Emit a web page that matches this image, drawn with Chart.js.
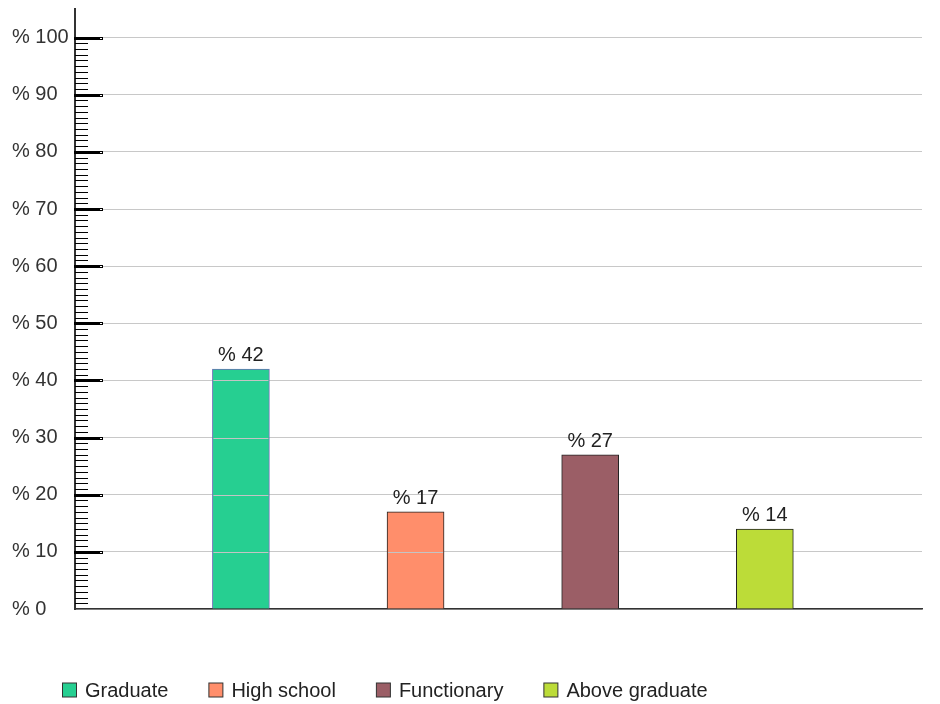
<!DOCTYPE html>
<html>
<head>
<meta charset="utf-8">
<title>Education level</title>
<script src="https://cdn.jsdelivr.net/npm/chart.js@4.4.1/dist/chart.umd.min.js"></script>
<style>
  html, body { margin: 0; padding: 0; background: #fff; }
  canvas { display: block; }
</style>
</head>
<body>
<canvas id="eduChart" width="940" height="704"></canvas>
<script>
const levels = ["Graduate", "High school", "Functionary", "Above graduate"];
const shares = [42, 17, 27, 14];
const yTicks = [0, 10, 20, 30, 40, 50, 60, 70, 80, 90, 100];

const fills = ["#26cf91", "#ff8e6b", "#9b5e66", "#bcdc38"];
const outlines = ["#6b6fb5", "#222", "#222", "#222"];
const FONT = "20px 'Liberation Sans', Arial, sans-serif";

Chart.defaults.font.family = "'Liberation Sans', Arial, sans-serif";
Chart.defaults.font.size = 20;

// ruler-style ticks on the value axis: long ones every 10, short ones every 1
const rulerTicks = {
  id: "rulerTicks",
  afterDraw(chart) {
    const y = chart.scales.y, ctx = chart.ctx, left = chart.chartArea.left;
    ctx.save();
    for (let v = 1; v <= 100; v++) {
      const py = Math.round(y.getPixelForValue(v));
      if (v % 10 === 0) {
        ctx.fillStyle = "#000";
        ctx.fillRect(left - 1, py - 1, 25, 3);
        ctx.fillStyle = "#fff";
        ctx.fillRect(left + 24, py - 1, 4, 3);
        ctx.strokeStyle = "#000";
        ctx.lineWidth = 1;
        ctx.strokeRect(left + 24.5, py - 0.5, 3, 2);
      } else {
        ctx.fillStyle = "#000";
        ctx.fillRect(left, py, 13, 1);
      }
    }
    ctx.restore();
  }
};

// the first two bars let the grid show through
const gridOverBars = {
  id: "gridOverBars",
  afterDatasetsDraw(chart, args, opts) {
    const meta = chart.getDatasetMeta(0), y = chart.scales.y, ctx = chart.ctx;
    ctx.save();
    ctx.strokeStyle = "#c4c4c4";
    ctx.lineWidth = 1;
    opts.bars.forEach(i => {
      const bar = meta.data[i];
      const half = bar.width / 2;
      y.ticks.forEach(t => {
        const py = Math.round(y.getPixelForValue(t.value)) + 0.5;
        if (py > bar.y + 1 && py < bar.base - 1) {
          ctx.beginPath();
          ctx.moveTo(bar.x - half + 1, py);
          ctx.lineTo(bar.x + half - 1, py);
          ctx.stroke();
        }
      });
    });
    ctx.restore();
  }
};

const valueLabels = {
  id: "valueLabels",
  afterDatasetsDraw(chart) {
    const meta = chart.getDatasetMeta(0), ctx = chart.ctx;
    ctx.save();
    ctx.font = FONT;
    ctx.fillStyle = "#222";
    ctx.textAlign = "center";
    ctx.textBaseline = "alphabetic";
    meta.data.forEach((bar, i) => {
      ctx.fillText("% " + shares[i], bar.x, bar.y - 8);
    });
    ctx.restore();
  }
};

const keyRow = {
  id: "keyRow",
  afterDraw(chart, args, opts) {
    const ctx = chart.ctx;
    ctx.save();
    ctx.font = FONT;
    ctx.textBaseline = "middle";
    let x = opts.x;
    const y = opts.y;
    levels.forEach((name, i) => {
      ctx.fillStyle = fills[i];
      ctx.fillRect(x + 0.5, y - 7, 14, 14);
      ctx.strokeStyle = "#333";
      ctx.lineWidth = 1;
      ctx.strokeRect(x + 0.5, y - 7, 14, 14);
      ctx.fillStyle = "#222";
      ctx.fillText(name, x + 23, y + 1);
      x += 23 + ctx.measureText(name).width + opts.gap;
    });
    ctx.restore();
  }
};

new Chart(document.getElementById("eduChart"), {
  type: "bar",
  data: {
    datasets: [{
      data: shares.map((v, i) => ({ x: i, y: v })),
      backgroundColor: fills,
      borderColor: outlines,
      borderWidth: 1,
      barThickness: 57
    }]
  },
  options: {
    responsive: false,
    animation: false,
    devicePixelRatio: 1,
    layout: { padding: { left: 12, right: 18, top: 9, bottom: 95 } },
    scales: {
      x: {
        type: "linear",
        offset: false,
        min: -0.95,
        max: 3.9,
        ticks: { display: false },
        grid: { display: false },
        border: { display: true, color: "#333", width: 1.5 },
        afterFit: s => { s.height = 0; s.paddingLeft = 0; s.paddingRight = 0; }
      },
      y: {
        min: 0,
        max: 105,
        afterBuildTicks: s => { s.ticks = yTicks.map(v => ({ value: v })); },
        afterFit: s => { s.width = 63; s.paddingTop = 0; s.paddingBottom = 0; },
        ticks: {
          crossAlign: "far",
          color: "#333",
          font: { size: 20 },
          callback: v => "% " + v
        },
        grid: { color: "#c8c8c8", lineWidth: 1, drawTicks: false },
        border: { display: true, color: "#333", width: 2 }
      }
    },
    plugins: {
      legend: { display: false },
      tooltip: { enabled: false },
      gridOverBars: { bars: [0, 1] },
      keyRow: { x: 62, y: 690, gap: 40 }
    }
  },
  plugins: [gridOverBars, valueLabels, rulerTicks, keyRow]
});
</script>
</body>
</html>
